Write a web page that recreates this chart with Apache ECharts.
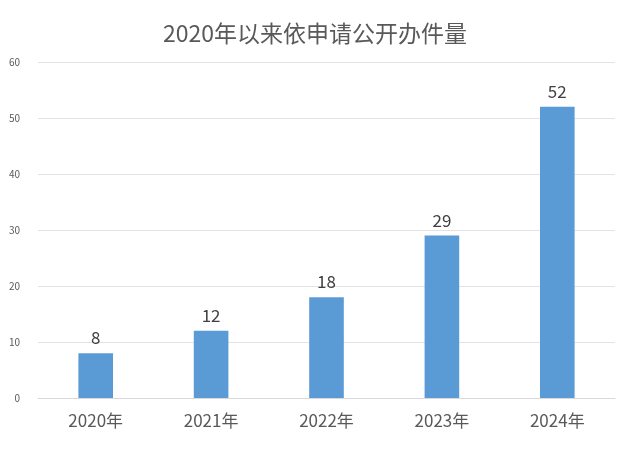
<!DOCTYPE html>
<html>
<head>
<meta charset="utf-8">
<script src="https://cdn.jsdelivr.net/npm/echarts@6/dist/echarts.min.js"></script>
<style>
  html, body { margin: 0; padding: 0; background: #fff; }
  #main { width: 630px; height: 453px; }
</style>
</head>
<body>
<div id="main"></div>
<script>
  // data
  var years = ['2020年', '2021年', '2022年', '2023年', '2024年'];
  var counts = [8, 12, 18, 29, 52];
  var yTicks = { min: 0, max: 60, interval: 10 };

  var myChart = echarts.init(document.getElementById('main'));
  var fontFam = '"Noto Sans CJK SC", "Open Sans", sans-serif';

  var option = {
    animation: false,
    title: {
      text: '2020年以来依申请公开办件量',
      left: 'center',
      top: 17,
      textStyle: { fontFamily: fontFam, fontSize: 23, fontWeight: 'normal', color: '#595959' }
    },
    grid: { left: 38, right: 15, top: 62, bottom: 55 },
    xAxis: {
      type: 'category',
      data: years,
      axisLine: { lineStyle: { color: '#D9D9D9' } },
      axisTick: { show: false },
      axisLabel: { fontFamily: fontFam, fontSize: 17, color: '#595959', margin: 14 }
    },
    yAxis: {
      type: 'value',
      min: yTicks.min,
      max: yTicks.max,
      interval: yTicks.interval,
      axisLine: { show: false },
      axisTick: { show: false },
      axisLabel: { fontFamily: fontFam, fontSize: 10, color: '#595959', margin: 18 },
      splitLine: { lineStyle: { color: '#E3E3E3' } }
    },
    series: [{
      type: 'bar',
      data: counts,
      barWidth: '30%',
      itemStyle: { color: '#5B9BD5' },
      label: {
        show: true,
        position: 'top',
        distance: 7,
        fontFamily: fontFam,
        fontSize: 17,
        color: '#404040'
      }
    }]
  };

  option && myChart.setOption(option);
</script>
</body>
</html>
